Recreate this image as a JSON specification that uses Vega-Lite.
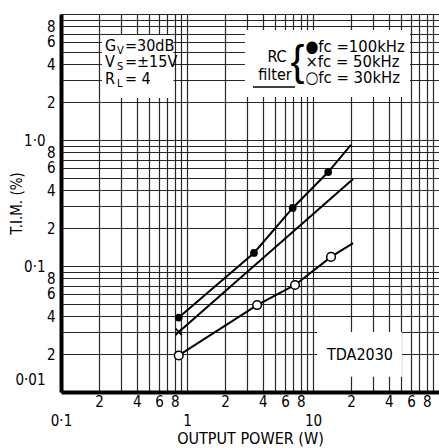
{
  "$schema": "https://vega.github.io/schema/vega-lite/v6.json",
  "width": 378,
  "height": 378,
  "autosize": "none",
  "padding": {"left": 61, "top": 14, "right": 0, "bottom": 56},
  "background": "white",
  "config": {
    "view": {"stroke": null},
    "font": "DejaVu Sans",
    "text": {"font": "DejaVu Sans Condensed", "color": "black"}
  },
  "datasets": {
    "curves": [
      {"series": "100kHz", "p": 0.86, "tim": 0.039},
      {"series": "100kHz", "p": 3.4, "tim": 0.127},
      {"series": "100kHz", "p": 6.9, "tim": 0.289},
      {"series": "100kHz", "p": 13.2, "tim": 0.557},
      {"series": "100kHz", "p": 20.0, "tim": 0.913},
      {"series": "50kHz", "p": 0.86, "tim": 0.030},
      {"series": "50kHz", "p": 20.8, "tim": 0.49},
      {"series": "30kHz", "p": 0.86, "tim": 0.0195},
      {"series": "30kHz", "p": 3.6, "tim": 0.049},
      {"series": "30kHz", "p": 7.2, "tim": 0.0707},
      {"series": "30kHz", "p": 13.9, "tim": 0.118},
      {"series": "30kHz", "p": 20.8, "tim": 0.152}
    ],
    "pts": [
      {"series": "100kHz", "p": 0.86, "tim": 0.039},
      {"series": "100kHz", "p": 3.4, "tim": 0.127},
      {"series": "100kHz", "p": 6.9, "tim": 0.289},
      {"series": "100kHz", "p": 13.2, "tim": 0.557},
      {"series": "50kHz", "p": 0.86, "tim": 0.030},
      {"series": "30kHz", "p": 0.86, "tim": 0.0195},
      {"series": "30kHz", "p": 3.6, "tim": 0.049},
      {"series": "30kHz", "p": 7.2, "tim": 0.0707},
      {"series": "30kHz", "p": 13.9, "tim": 0.118}
    ],
    "boxes": [
      {"p": 0.211, "p2": 0.78, "tim": 6.81, "tim2": 2.15},
      {"p": 2.88, "p2": 58.9, "tim": 7.46, "tim2": 2.19},
      {"p": 10.8, "p2": 50.8, "tim": 0.030, "tim2": 0.0132}
    ],
    "leftText": [
      {"p": 0.2235, "tim": 5.57, "t": "G"},
      {"p": 0.322, "tim": 5.57, "t": "=30dB"},
      {"p": 0.2235, "tim": 4.16, "t": "V"},
      {"p": 0.322, "tim": 4.16, "t": "=±15V"},
      {"p": 0.2235, "tim": 3.05, "t": "R"},
      {"p": 0.322, "tim": 3.05, "t": "= 4"}
    ],
    "legendText": [
      {"p": 8.7, "tim": 5.47, "t": "●fc =100kHz"},
      {"p": 8.7, "tim": 4.16, "t": "×fc =  50kHz"},
      {"p": 8.7, "tim": 3.10, "t": "○fc =  30kHz"}
    ],
    "subText": [
      {"p": 0.278, "tim": 5.08, "t": "V"},
      {"p": 0.278, "tim": 3.79, "t": "S"},
      {"p": 0.278, "tim": 2.78, "t": "L"}
    ],
    "centerText": [
      {"p": 5.18, "tim": 4.56, "t": "RC"},
      {"p": 4.99, "tim": 3.28, "t": "filter"},
      {"p": 23.6, "tim": 0.0197, "t": "TDA2030"}
    ],
    "brace": [
      {"p": 7.55, "tim": 4.16, "t": "{"}
    ],
    "underline": [
      {"p": 3.34, "p2": 7.19, "tim": 2.64}
    ]
  },
  "encoding": {
    "x": {
      "field": "p",
      "type": "quantitative",
      "scale": {"type": "log", "domain": [0.1, 100], "nice": false},
      "axis": {
        "title": "OUTPUT POWER (W)",
        "values": [0.1, 0.2, 0.3, 0.4, 0.5, 0.6, 0.7, 0.8, 0.9, 1, 2, 3, 4, 5, 6, 7, 8, 9, 10, 20, 30, 40, 50, 60, 70, 80, 90],
        "labelExpr": "datum.value == 0.1 ? '0·1' : datum.value == 1 ? '1' : datum.value == 10 ? '10' : (round(datum.value/pow(10,floor(log(datum.value)/LN10+1e-6))) % 2 == 0 ? '' + round(datum.value/pow(10,floor(log(datum.value)/LN10+1e-6))) : '')",
        "labelPadding": {"condition": {"test": "datum.value == 0.1 || datum.value == 1 || datum.value == 10", "value": 21}, "value": 2},
        "labelFontSize": 15,
        "labelColor": "black",
        "labelFont": "DejaVu Sans Condensed",
        "labelOverlap": false,
        "labelFlush": false,
        "labelBound": false,
        "ticks": false,
        "domain": true,
        "domainColor": "black",
        "domainWidth": 4,
        "grid": true,
        "gridColor": "#111",
        "gridWidth": 1.2,
        "gridOpacity": 0.9,
        "titleFont": "DejaVu Sans Condensed",
        "titleFontSize": 16,
        "titleFontWeight": "normal",
        "titleColor": "black",
        "titlePadding": 2
      }
    },
    "y": {
      "field": "tim",
      "type": "quantitative",
      "scale": {"type": "log", "domain": [0.01, 10], "nice": false},
      "axis": {
        "title": "T.I.M. (%)",
        "values": [0.01, 0.02, 0.03, 0.04, 0.05, 0.06, 0.07, 0.08, 0.09, 0.1, 0.2, 0.3, 0.4, 0.5, 0.6, 0.7, 0.8, 0.9, 1, 2, 3, 4, 5, 6, 7, 8, 9, 10],
        "labelExpr": "datum.value == 0.01 ? '0·01' : datum.value == 0.1 ? '0·1' : datum.value == 1 ? '1·0' : datum.value == 10 ? '' : (round(datum.value/pow(10,floor(log(datum.value)/LN10+1e-6))) % 2 == 0 ? '' + round(datum.value/pow(10,floor(log(datum.value)/LN10+1e-6))) : '')",
        "labelPadding": {"condition": {"test": "datum.value == 0.01 || datum.value == 0.1 || datum.value == 1", "value": 16}, "value": 6},
        "labelOffset": {"condition": {"test": "datum.value == 0.01", "value": -13}, "value": 0},
        "labelFontSize": 15,
        "labelColor": "black",
        "labelFont": "DejaVu Sans Condensed",
        "labelOverlap": false,
        "labelFlush": false,
        "labelBound": false,
        "ticks": false,
        "domain": true,
        "domainColor": "black",
        "domainWidth": 4,
        "grid": true,
        "gridColor": "#111",
        "gridWidth": 1.2,
        "gridOpacity": 0.9,
        "titleFont": "DejaVu Sans Condensed",
        "titleFontSize": 15,
        "titleFontWeight": "normal",
        "titleColor": "black",
        "titleX": -45,
        "titleBaseline": "middle"
      }
    }
  },
  "layer": [
    {
      "data": {"name": "boxes"},
      "mark": {"type": "rect", "fill": "white", "stroke": null},
      "encoding": {"x2": {"field": "p2"}, "y2": {"field": "tim2"}}
    },
    {
      "data": {"name": "curves"},
      "mark": {"type": "line", "color": "black", "strokeWidth": 2},
      "encoding": {"detail": {"field": "series"}}
    },
    {
      "data": {"name": "pts"},
      "transform": [{"filter": "datum.series == '100kHz'"}],
      "mark": {"type": "point", "shape": "circle", "filled": true, "color": "black", "size": 60, "opacity": 1}
    },
    {
      "data": {"name": "pts"},
      "transform": [{"filter": "datum.series == '30kHz'"}],
      "mark": {"type": "point", "shape": "circle", "filled": true, "fill": "white", "stroke": "black", "strokeWidth": 1.5, "size": 75, "opacity": 1}
    },
    {
      "data": {"name": "pts"},
      "transform": [{"filter": "datum.series == '50kHz'"}],
      "mark": {"type": "point", "shape": "M-1,-1L1,1M-1,1L1,-1", "filled": false, "stroke": "black", "strokeWidth": 1.8, "size": 40, "opacity": 1}
    },
    {
      "data": {"name": "leftText"},
      "mark": {"type": "text", "align": "left", "baseline": "middle", "fontSize": 16, "color": "black"},
      "encoding": {"text": {"field": "t"}}
    },
    {
      "data": {"name": "legendText"},
      "mark": {"type": "text", "align": "left", "baseline": "middle", "fontSize": 16.5, "color": "black"},
      "encoding": {"text": {"field": "t"}}
    },
    {
      "data": {"name": "subText"},
      "mark": {"type": "text", "align": "left", "baseline": "middle", "fontSize": 11, "color": "black"},
      "encoding": {"text": {"field": "t"}}
    },
    {
      "data": {"name": "centerText"},
      "mark": {"type": "text", "align": "center", "baseline": "middle", "fontSize": 16, "color": "black"},
      "encoding": {"text": {"field": "t"}}
    },
    {
      "data": {"name": "brace"},
      "mark": {"type": "text", "align": "center", "baseline": "middle", "fontSize": 42, "font": "Liberation Sans", "color": "black"},
      "encoding": {"text": {"field": "t"}}
    },
    {
      "data": {"name": "underline"},
      "mark": {"type": "rule", "color": "black", "strokeWidth": 1.5},
      "encoding": {"x2": {"field": "p2"}}
    }
  ]
}
